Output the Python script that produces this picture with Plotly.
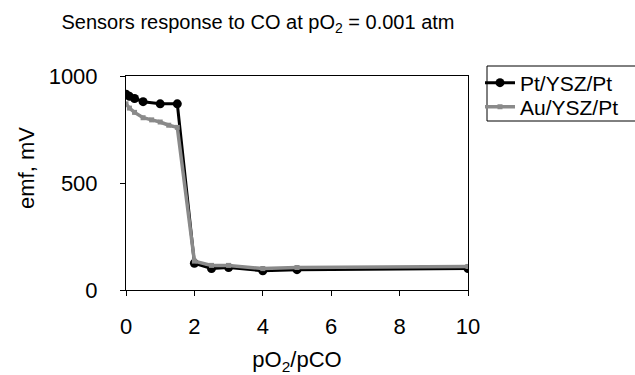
import plotly.graph_objects as go

pt_x = [0, 0.1, 0.25, 0.5, 1.0, 1.5, 2.0, 2.5, 3.0, 4.0, 5.0, 10.0]
pt_y = [915, 905, 895, 880, 870, 870, 125, 100, 105, 90, 95, 100]

au_x = [0, 0.1, 0.25, 0.5, 0.75, 1.0, 1.25, 1.5, 2.0, 2.5, 3.0, 4.0, 5.0, 10.0]
au_y = [870, 850, 830, 805, 795, 785, 770, 760, 135, 115, 115, 100, 105, 110]

x_ticks = [0, 2, 4, 6, 8, 10]
y_ticks = [0, 500, 1000]

FONT = "Liberation Sans, Arial, sans-serif"

# plot area in pixels (for placing the legend box / y title)
L, R, T, B = 126, 468, 76, 290
PW, PH = R - L, B - T


def px_x(p):
    return (p - L) / PW


def px_y(p):
    return (B - p) / PH


fig = go.Figure()
fig.add_trace(go.Scatter(
    x=pt_x, y=pt_y, name="Pt/YSZ/Pt", mode="lines+markers",
    line=dict(color="black", width=3),
    marker=dict(symbol="circle", size=9, color="black"),
    legend="legend",
))
fig.add_trace(go.Scatter(
    x=au_x, y=au_y, name="Au/YSZ/Pt", mode="lines+markers",
    line=dict(color="#8a8a8a", width=3.5),
    marker=dict(symbol="square", size=5, color="#8a8a8a"),
    legend="legend2",
))

legend_common = dict(
    xanchor="left", yanchor="middle",
    bordercolor="black", borderwidth=0, bgcolor="rgba(0,0,0,0)",
    font=dict(family=FONT, size=21, color="black"),
    itemwidth=30, tracegroupgap=0,
)

fig.update_layout(
    width=635, height=375,
    margin=dict(l=L, r=635 - R, t=T, b=375 - B, autoexpand=False),
    paper_bgcolor="white", plot_bgcolor="white",
    font=dict(family=FONT, size=22, color="black"),
    title=dict(
        text="Sensors response to CO at pO<sub>2</sub> = 0.001 atm",
        x=258 / 635, xref="container", xanchor="center",
        y=1 - 22 / 375, yref="container", yanchor="middle",
        font=dict(family=FONT, size=20, color="black"),
    ),
    showlegend=True,
    legend=dict(x=px_x(480), y=px_y(83), **legend_common),
    legend2=dict(x=px_x(480), y=px_y(107), **legend_common),
    xaxis=dict(
        range=[0, 10], tickvals=x_ticks, ticks="outside", ticklen=5,
        tickcolor="black", showline=True, linecolor="black", linewidth=1,
        mirror=True, showgrid=False, zeroline=False,
        ticklabelstandoff=12,
        tickfont=dict(family=FONT, size=22),
        title=dict(text="pO<sub>2</sub>/pCO", standoff=15,
                   font=dict(family=FONT, size=22)),
    ),
    yaxis=dict(
        range=[0, 1000], tickvals=y_ticks, ticks="outside", ticklen=5,
        tickcolor="black", showline=True, linecolor="black", linewidth=1,
        mirror=True, showgrid=False, zeroline=False,
        ticklabelstandoff=18,
        tickfont=dict(family=FONT, size=22),
    ),
    shapes=[dict(
        type="rect", xref="paper", yref="paper",
        x0=px_x(487), x1=px_x(645), y0=px_y(121), y1=px_y(66),
        line=dict(color="black", width=1), fillcolor="rgba(0,0,0,0)",
        layer="below",
    )],
    annotations=[dict(
        text="emf, mV", textangle=-90, showarrow=False,
        xref="paper", yref="paper",
        x=px_x(26), y=px_y(168),
        xanchor="center", yanchor="middle",
        font=dict(family=FONT, size=22, color="black"),
    )],
)

fig.write_html("out.html")
